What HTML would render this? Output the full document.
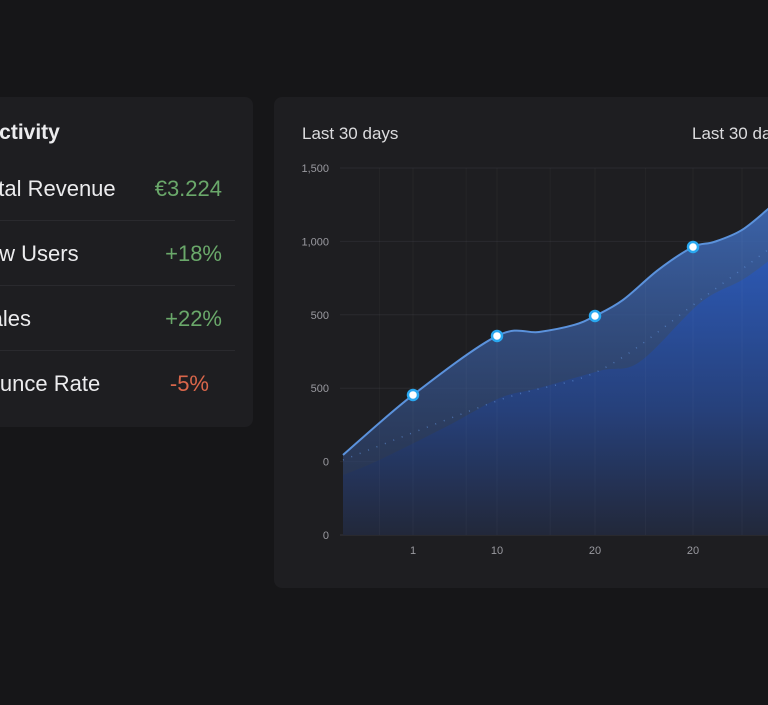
<!DOCTYPE html>
<html><head><meta charset="utf-8"><style>
html,body{margin:0;padding:0;width:768px;height:705px;overflow:hidden;background:#161618;font-family:"Liberation Sans",sans-serif}
.card{position:absolute;background:#1e1e21;border-radius:8px;overflow:hidden}
.t{position:absolute;color:#ececee;white-space:nowrap}
.v{position:absolute;right:31px;font-size:22px;white-space:nowrap}
.sep{position:absolute;left:0;width:235px;height:1px;background:#2a2a2e}
</style></head><body>
<div class="card" style="left:-20px;top:97px;width:273px;height:330px">
  <div class="t" style="left:4px;top:24px;font-size:21px;font-weight:bold">Activity</div>
  <div class="t" style="left:-5px;top:79px;font-size:22px">Total Revenue</div>
  <div class="v" style="top:79px;color:#6aa86a">€3.224</div>
  <div class="sep" style="top:123px;left:20px"></div>
  <div class="t" style="left:-9px;top:144px;font-size:22px">New Users</div>
  <div class="v" style="top:144px;color:#6aa86a">+18%</div>
  <div class="sep" style="top:188px;left:20px"></div>
  <div class="t" style="left:-4px;top:209px;font-size:22px">Sales</div>
  <div class="v" style="top:209px;color:#6aa86a">+22%</div>
  <div class="sep" style="top:253px;left:20px"></div>
  <div class="t" style="left:-7px;top:274px;font-size:22px">Bounce Rate</div>
  <div class="v" style="top:274px;right:44px;color:#d9664a">-5%</div>
</div>
<div class="card" style="left:274px;top:97px;width:520px;height:491px">
  <div class="t" style="left:28px;top:27px;font-size:17px;color:#dcdcde">Last 30 days</div>
  <div class="t" style="left:418px;top:27px;font-size:17px;color:#dcdcde">Last 30 days</div>
</div>
<svg id="chart" width="768" height="705" style="position:absolute;left:0;top:0">
<defs>
<linearGradient id="gOuter" x1="0" y1="0" x2="0" y2="1"><stop offset="0" stop-color="#3e6ab8" stop-opacity="0.9"/><stop offset="1" stop-color="#2b3a5c" stop-opacity="0.6"/></linearGradient>
<linearGradient id="gInner" x1="0" y1="0" x2="0" y2="1"><stop offset="0" stop-color="#2c58b2"/><stop offset="0.55" stop-color="#26407a"/><stop offset="1" stop-color="#22283a"/></linearGradient>
<clipPath id="clip"><rect x="274" y="97" width="494" height="491"/></clipPath>
</defs>
<g id="grid"></g><g id="areas" clip-path="url(#clip)"></g><g id="vgrid" clip-path="url(#clip)"></g><g id="labels"></g><g id="marks" clip-path="url(#clip)"></g>
</svg>
<script>
const yTickValues=[0,500,1000,1500,2000,2500];
const yTickLabels=['0','0','500','500','1,000','1,500'];
const xTickDays=[5,11,18,25];
const xTickLabels=['1','10','20','20'];
const mainDays=[0,5,11,14,16.5,18,20,22.5,25,26.5,28.5,30.6];
const mainValues=[545,954,1356,1383,1431,1492,1601,1805,1962,1996,2078,2240];
const markerDays=[5,11,18,25];
const markerValues=[954,1356,1492,1962];
const innerDays=[0,2.6,7.6,11.2,14,18.4,21.2,25.5,28.5,30.6];
const innerValues=[409,511,749,933,1001,1120,1180,1580,1737,1880];
const dotDays=[0,11.2,18.4,25.5,30.6];
const dotValues=[511,920,1124,1601,1960];
const gridDays=[2.6,5,8.8,11,14.8,18,21.6,25,28.5];

const x=d=>343+14*d;
const y=v=>535-v/2500*367;
const NS='http://www.w3.org/2000/svg';
function mk(tag,parent,attrs){const e=document.createElementNS(NS,tag);for(const k in attrs)e.setAttribute(k,attrs[k]);document.getElementById(parent).appendChild(e);return e;}
function smooth(ds,vs){let p=[];for(let i=0;i<ds.length;i++)p.push([x(ds[i]),y(vs[i])]);let s='M'+p[0][0]+','+p[0][1];
 for(let i=0;i<p.length-1;i++){const p0=p[i-1]||p[i],p1=p[i],p2=p[i+1],p3=p[i+2]||p2;
 s+=' C'+(p1[0]+(p2[0]-p0[0])/6)+','+(p1[1]+(p2[1]-p0[1])/6)+' '+(p2[0]-(p3[0]-p1[0])/6)+','+(p2[1]-(p3[1]-p1[1])/6)+' '+p2[0]+','+p2[1];}return s;}

yTickValues.forEach((v,i)=>{
 const l=mk('line','grid',{x1:340,x2:768,y1:y(v),y2:y(v),stroke:i==0?'#34343a':'#2a2a2f','stroke-width':1});
 
 
 const t=mk('text','labels',{x:329,y:y(v)+4,'text-anchor':'end','font-size':11,fill:'#9a9aa0','font-family':'Liberation Sans, sans-serif'});
 t.textContent=yTickLabels[i];
 
 
});
xTickDays.forEach((d,i)=>{
 const t=mk('text','labels',{x:x(d),y:554,'text-anchor':'middle','font-size':11,fill:'#9a9aa0','font-family':'Liberation Sans, sans-serif'});
 t.textContent=xTickLabels[i];
 
 
});
const mainPath=smooth(mainDays,mainValues);
const outer=mk('path','areas',{d:mainPath+' L'+x(30.6)+','+y(0)+' L'+x(0)+','+y(0)+' Z',fill:'url(#gOuter)'});


const inner=mk('path','areas',{d:smooth(innerDays,innerValues)+' L'+x(30.6)+','+y(0)+' L'+x(0)+','+y(0)+' Z',fill:'url(#gInner)'});


const dot=mk('path','areas',{d:smooth(dotDays,dotValues),fill:'none',stroke:'#5f8fd8','stroke-width':1.5,'stroke-dasharray':'1 8','stroke-opacity':0.6});


const line=mk('path','areas',{d:mainPath,fill:'none',stroke:'#5b92dc','stroke-width':2});


gridDays.forEach(d=>{
 const l=mk('line','vgrid',{x1:x(d),x2:x(d),y1:y(2500),y2:y(0),stroke:'#ffffff','stroke-opacity':0.03});
 
 
});
markerDays.forEach((d,i)=>{
 const c=mk('circle','marks',{cx:x(d),cy:y(markerValues[i]),r:5,fill:'#ffffff',stroke:'#2aa8f0','stroke-width':2.5});
 
 
});
</script>
</body></html>
